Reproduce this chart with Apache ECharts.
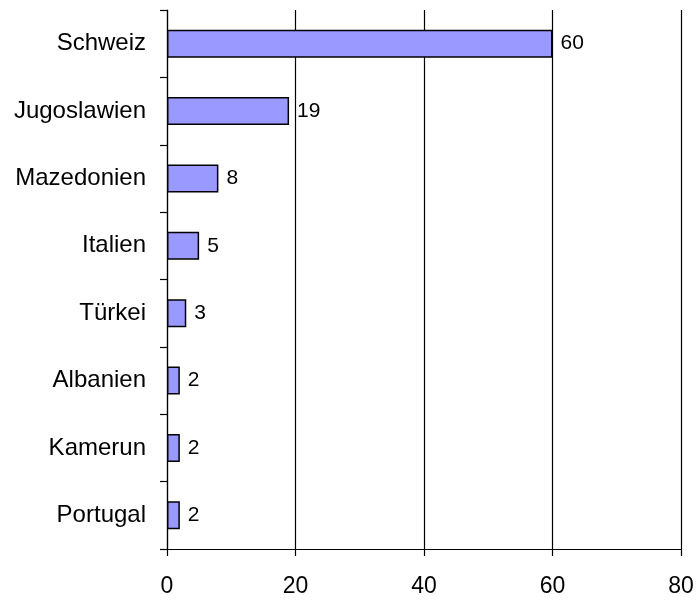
<!DOCTYPE html>
<html>
<head>
<meta charset="utf-8">
<script src="https://cdn.jsdelivr.net/npm/echarts@6/dist/echarts.min.js"></script>
<style>html,body{margin:0;padding:0;background:#fff}#c{width:699px;height:601px}</style>
</head>
<body>
<div id="c"></div>
<script>
const categories = ["Schweiz", "Jugoslawien", "Mazedonien", "Italien", "Türkei", "Albanien", "Kamerun", "Portugal"];
const values = [60, 19, 8, 5, 3, 2, 2, 2];
const xTicks = [0, 20, 40, 60, 80];

const chart = echarts.init(document.getElementById('c'), null, {renderer: 'canvas'});
chart.setOption({
  animation: false,
  backgroundColor: '#ffffff',
  textStyle: {fontFamily: 'Liberation Sans, Arial, sans-serif'},
  grid: {left: 167, right: 18, top: 10, bottom: 52, containLabel: false},
  xAxis: {
    type: 'value',
    min: xTicks[0], max: xTicks[xTicks.length - 1], interval: 20,
    axisLine: {show: true, lineStyle: {color: '#000', width: 1.2}},
    axisTick: {show: true, length: 7, lineStyle: {color: '#000', width: 1.2}},
    splitLine: {show: true, lineStyle: {color: '#000', width: 1.2}},
    axisLabel: {color: '#000', fontSize: 23, margin: 26, fontFamily: 'Liberation Sans'}
  },
  yAxis: {
    type: 'category',
    data: categories,
    inverse: true,
    axisLine: {show: true, lineStyle: {color: '#000', width: 1.2}},
    axisTick: {show: true, length: 7, lineStyle: {color: '#000', width: 1.2}},
    axisLabel: {color: '#000', fontSize: 24, margin: 21, fontFamily: 'Liberation Sans'}
  },
  series: [{
    type: 'bar',
    data: values,
    barWidth: 28,
    itemStyle: {color: '#9999FF', borderColor: '#000', borderWidth: 1.5},
    label: {show: true, position: 'right', distance: 8, color: '#000', fontSize: 21, fontFamily: 'Liberation Sans'}
  }]
});
</script>
</body>
</html>
